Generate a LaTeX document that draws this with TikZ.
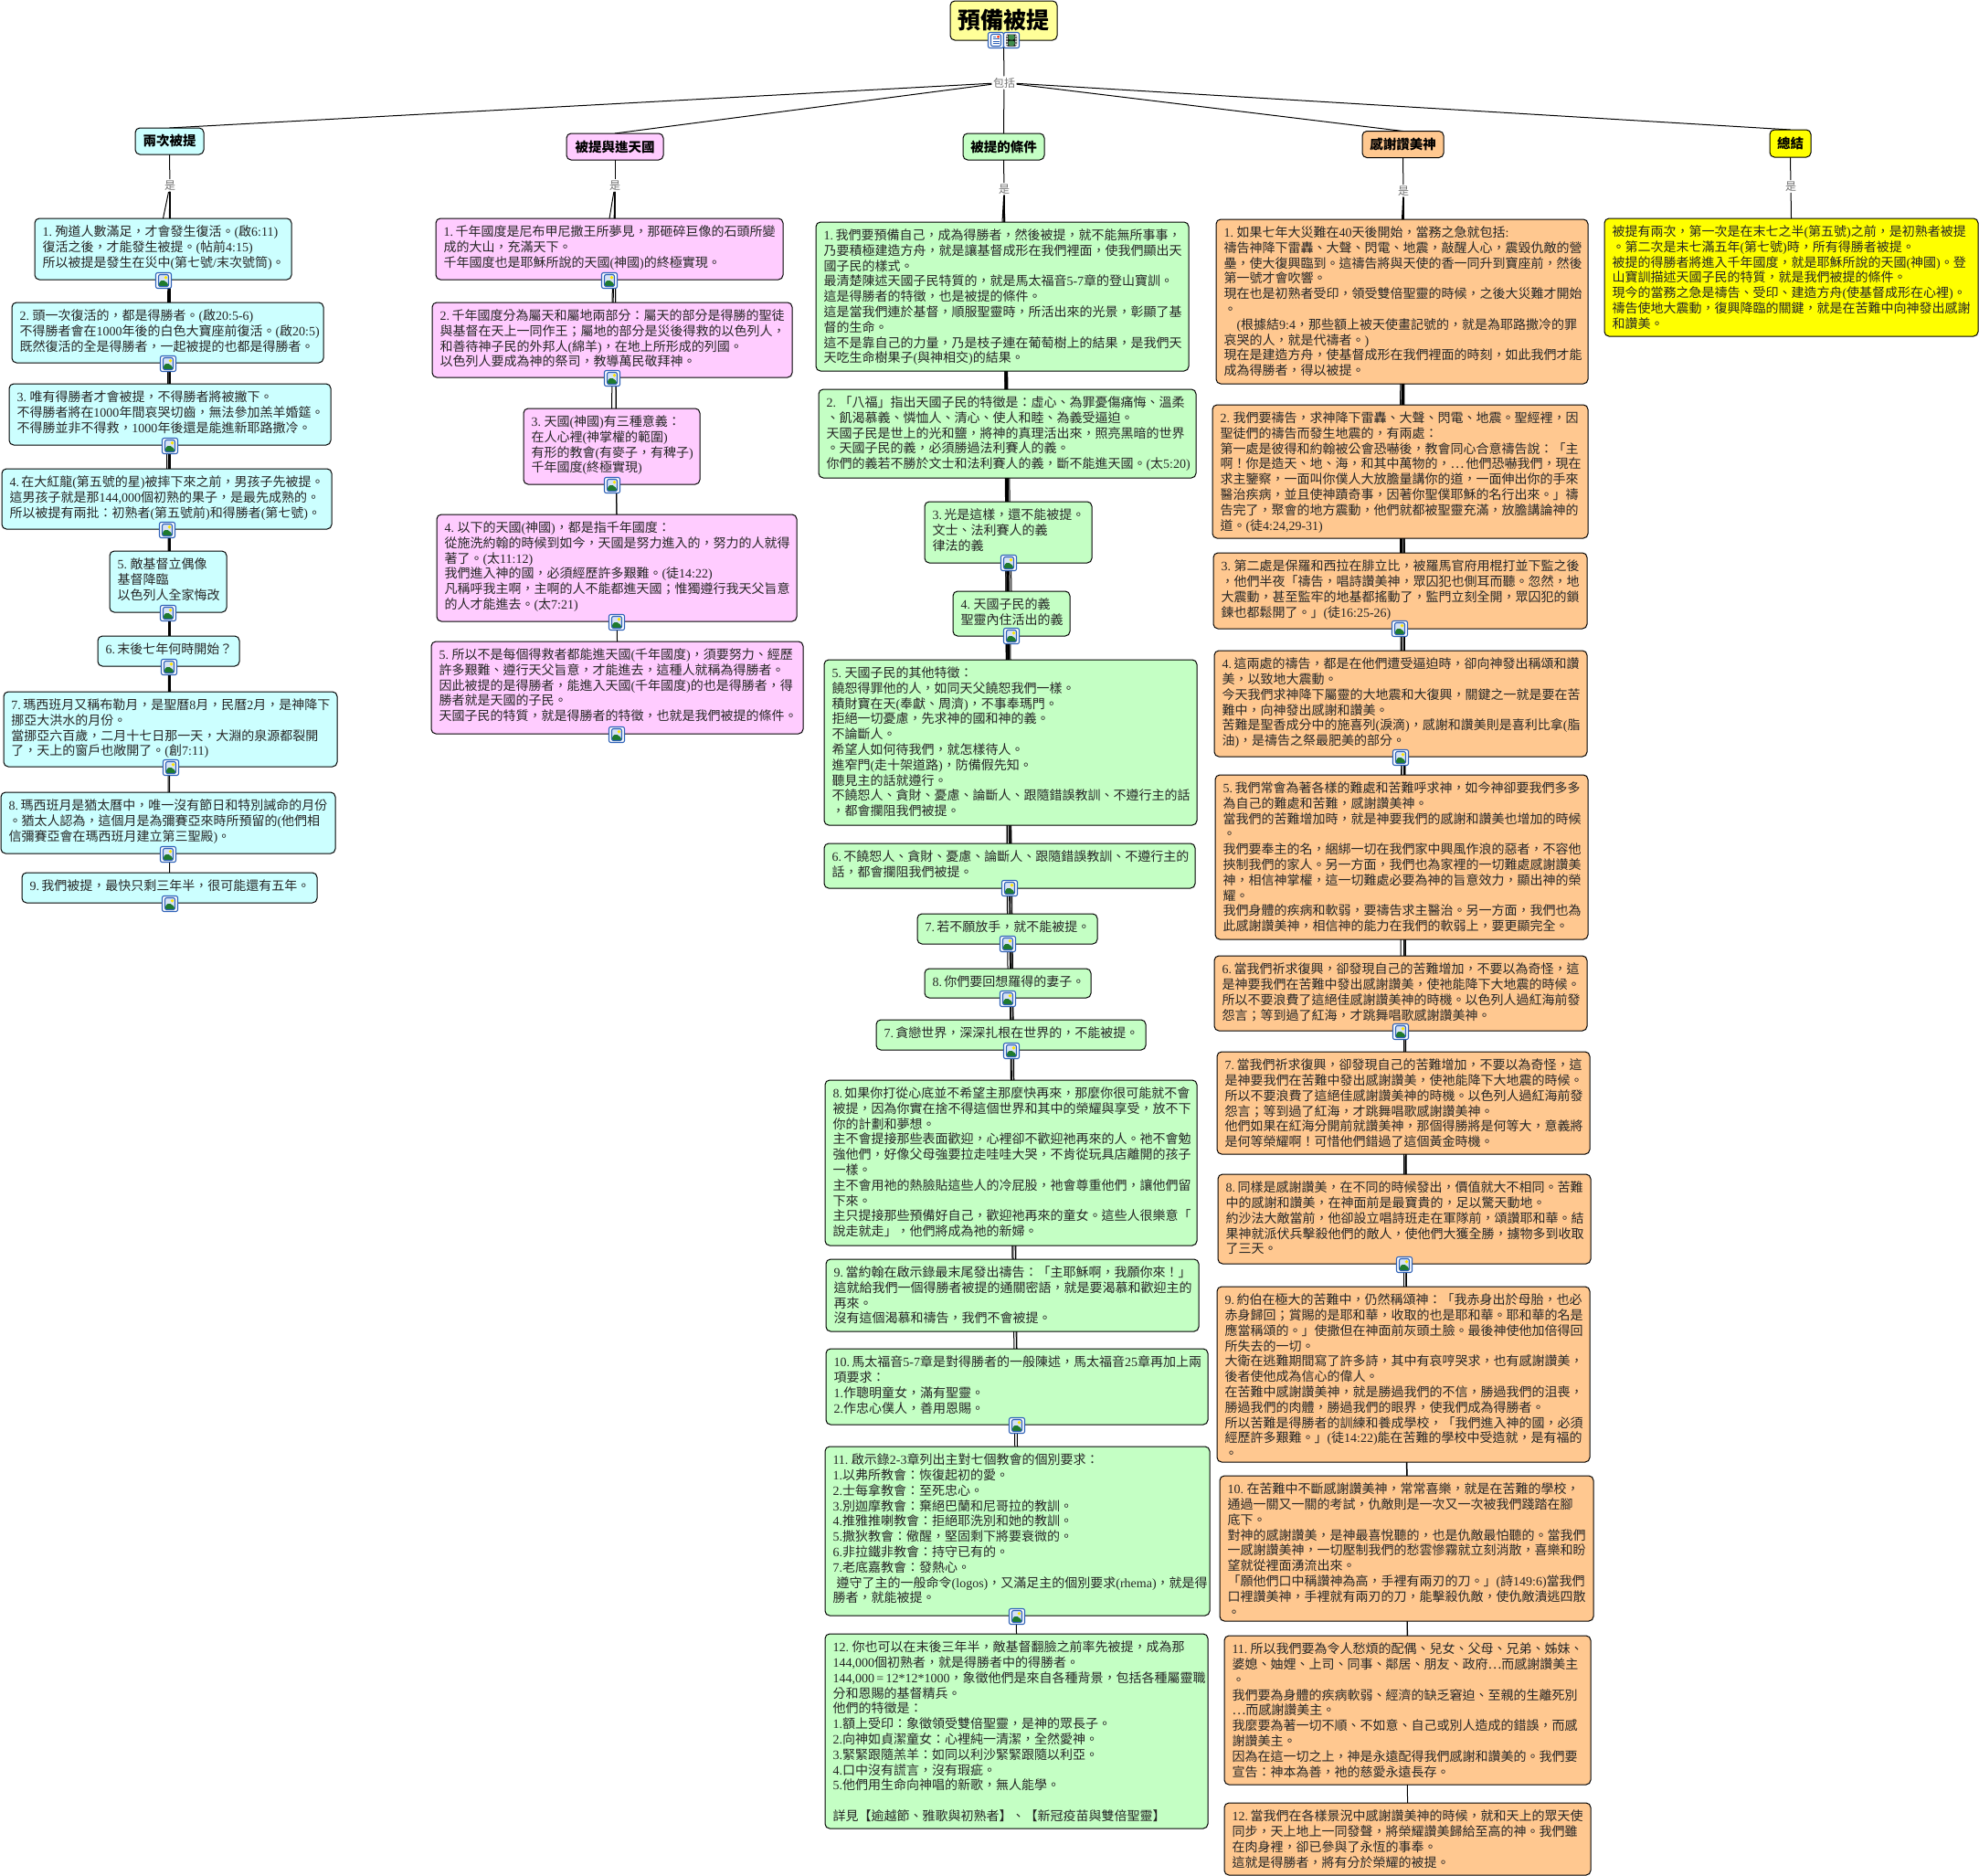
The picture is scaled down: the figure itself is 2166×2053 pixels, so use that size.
\documentclass[tikz,border=0pt]{standalone}
\usepackage{fontspec}
\usetikzlibrary{backgrounds}
\setmainfont{Liberation Serif}
\newfontfamily\hanfont{Noto Sans CJK TC}

% han characters take the CJK font, the rest stays in the serif
\XeTeXinterchartokenstate=1
\newcount\hancode
\hancode="3000
\loop \XeTeXcharclass\hancode=100 \advance\hancode by 1 \ifnum\hancode<"A000 \repeat
\hancode="FF00
\loop \XeTeXcharclass\hancode=100 \advance\hancode by 1 \ifnum\hancode<"FFF0 \repeat
\XeTeXcharclass"22EF=100
\XeTeXinterchartoks 0 100={\hanfont}
\XeTeXinterchartoks 100 0={\rmfamily}
\XeTeXinterchartoks 4095 100={\hanfont}
\XeTeXinterchartoks 100 4095={\rmfamily}

\definecolor{cyanfill}{HTML}{CCFFFF}
\definecolor{pinkfill}{HTML}{FFCCFF}
\definecolor{greenfill}{HTML}{C4FFC4}
\definecolor{orangefill}{HTML}{FFC890}
\definecolor{yellowfill}{HTML}{FFFF00}
\definecolor{titlefill}{HTML}{FFFF99}
\definecolor{iconblue}{HTML}{2F62B8}
\definecolor{iconsky}{HTML}{D6E2F5}
\definecolor{iconhill}{HTML}{1F7A2E}

\tikzset{
    notebox/.style={draw,line width=1pt,rounded corners=5pt,outer sep=0pt,inner xsep=8.5pt,inner ysep=7.7pt,text=black!85},
    headbox/.style={draw,line width=1pt,rounded corners=5pt,outer sep=0pt,inner sep=0pt,font=\fontsize{14.5}{17}\selectfont\bfseries},
    linkword/.style={inner sep=1.5pt,text=black!55,font=\fontsize{12}{14}\selectfont},
    link/.style={draw,line width=1pt,-},
    iconbase/.style={draw=iconblue,line width=1.1pt,fill=white,rounded corners=2pt,outer sep=0pt,inner sep=0pt,minimum size=17pt},
    imgicon/.style={iconbase,path picture={
        \begin{scope}[shift={(path picture bounding box.center)}]
            \fill[iconsky] (-5.5,-6.5) rectangle (5.5,6.5);
            \fill[yellow!90!orange] (2.5,-3.2) circle (1.9);
            \fill[iconhill] (-5.5,6.5) -- (-5.5,2.5) -- (-1,-1) -- (5.5,3.5) -- (5.5,6.5) -- cycle;
            \draw[line width=1.1pt] (-5.5,-6.5) rectangle (5.5,6.5);
        \end{scope}}},
    docicon/.style={iconbase,path picture={
        \begin{scope}[shift={(path picture bounding box.center)}]
            \draw[line width=1.1pt] (-5.5,-6.5) rectangle (5.5,6.5);
            \foreach \yy in {-1.5,1,3.5}
                \draw[line width=.9pt] (-3.5,\yy) -- (3.5,\yy);
            \draw[line width=.9pt] (-3.5,-4) -- (0,-4);
            \fill[red!70!orange] (1,-5) rectangle (4,-2.5);
        \end{scope}}},
    filmicon/.style={iconbase,path picture={
        \begin{scope}[shift={(path picture bounding box.center)}]
            \fill[black] (-6,-6.5) rectangle (6,6.5);
            \fill[iconhill!85!white] (-3.5,-6) rectangle (3.5,-.5);
            \fill[iconhill!85!white] (-3.5,.5) rectangle (3.5,6);
            \foreach \yy in {-4.5,-1.5,1.5,4.5} {
                \fill[white] (-5.4,\yy-.6) rectangle (-4.4,\yy+.6);
                \fill[white] (4.4,\yy-.6) rectangle (5.4,\yy+.6);
            }
        \end{scope}}},
}

\newcommand{\notefont}{\fontsize{14}{16.8}\selectfont\raggedright\lefthyphenmin=62 \exhyphenpenalty=10000 }
% style, name, left, top, right, bottom, text
\newcommand{\textnote}[7]{%
    \pgfmathsetmacro{\notew}{#5-#3-17}%
    \pgfmathsetmacro{\noteh}{#6-#4-15.4}%
    \node[notebox,fill=#1,anchor=north west] (#2) at (#3,#4)
        {\begin{minipage}[t][\noteh pt][t]{\notew pt}\notefont #7\end{minipage}};%
}

\begin{document}
\begin{tikzpicture}[x=1pt,y=-1pt]
    \useasboundingbox (0,0) rectangle (2166,2053);

    \node[headbox,fill=titlefill,minimum width=117pt,minimum height=43pt,
        font=\fontsize{25}{30}\selectfont\bfseries,text depth=3pt] (title) at (1098.5,22.5) {預備被提};
    \node[linkword] (incl) at (1099,90.5) {包括};

    \node[headbox,fill=cyanfill,minimum width=75pt,minimum height=29pt] (ha) at (185.5,154.5) {兩次被提};
    \node[headbox,fill=pinkfill,minimum width=106pt,minimum height=29pt] (hb) at (673,160.5) {被提與進天國};
    \node[headbox,fill=greenfill,minimum width=89pt,minimum height=29pt] (hc) at (1098.5,160.5) {被提的條件};
    \node[headbox,fill=orangefill,minimum width=89pt,minimum height=29pt] (hd) at (1535.5,158) {感謝讚美神};
    \node[headbox,fill=yellowfill,minimum width=45pt,minimum height=30pt] (he) at (1959.5,157) {總結};

    \foreach \pos/\name in {
            {(186,203)/wa}, {(673,203)/wb}, {(1099,207)/wc}, {(1536,209)/wd}, {(1960,204)/we}}
        \node[linkword] (\name) at \pos {是};

    % first column
    \textnote{cyanfill}{a1}{38}{239}{319}{306}{1.~殉道人數滿足，才會發生復活。(啟6:11)\\復活之後，才能發生被提。(帖前4:15)\\所以被提是發生在災中(第七號/末次號筒)。}
    \textnote{cyanfill}{a2}{13}{331}{354}{397}{2.~頭一次復活的，都是得勝者。(啟20:5-6)\\不得勝者會在1000年後的白色大寶座前復活。(啟20:5)\\既然復活的全是得勝者，一起被提的也都是得勝者。}
    \textnote{cyanfill}{a3}{10}{420}{362}{487}{3.~唯有得勝者才會被提，不得勝者將被撇下。\\不得勝者將在1000年間哀哭切齒，無法參加羔羊婚筵。\\不得勝並非不得救，1000年後還是能進新耶路撒冷。}
    \textnote{cyanfill}{a4}{2}{513}{363}{579}{4.~在大紅龍(第五號的星)被摔下來之前，男孩子先被提。\\這男孩子就是那144,000個初熟的果子，是最先成熟的。\\所以被提有兩批：初熟者(第五號前)和得勝者(第七號)。}
    \textnote{cyanfill}{a5}{120}{603}{248}{670}{5.~敵基督立偶像\\基督降臨\\以色列人全家悔改}
    \textnote{cyanfill}{a6}{107}{696}{262}{729}{6.~末後七年何時開始？}
    \textnote{cyanfill}{a7}{4}{757}{369}{839}{7.~瑪西班月又稱布勒月，是聖曆8月，民曆2月，是神降下\\挪亞大洪水的月份。\\當挪亞六百歲，二月十七日那一天，大淵的泉源都裂開\\了，天上的窗戶也敞開了。(創7:11)}
    \textnote{cyanfill}{a8}{1}{867}{367}{934}{8.~瑪西班月是猶太曆中，唯一沒有節日和特別誡命的月份\\。猶太人認為，這個月是為彌賽亞來時所預留的(他們相\\信彌賽亞會在瑪西班月建立第三聖殿)。}
    \textnote{cyanfill}{a9}{24}{955}{347}{988}{9.~我們被提，最快只剩三年半，很可能還有五年。}

    % second column
    \textnote{pinkfill}{b1}{477}{239}{857}{306}{1.~千年國度是尼布甲尼撒王所夢見，那砸碎巨像的石頭所變\\成的大山，充滿天下。\\千年國度也是耶穌所說的天國(神國)的終極實現。}
    \textnote{pinkfill}{b2}{473}{331}{867}{413}{2.~千年國度分為屬天和屬地兩部分：屬天的部分是得勝的聖徒\\與基督在天上一同作王；屬地的部分是災後得救的以色列人，\\和善待神子民的外邦人(綿羊)，在地上所形成的列國。\\以色列人要成為神的祭司，教導萬民敬拜神。}
    \textnote{pinkfill}{b3}{573}{447}{766}{530}{3.~天國(神國)有三種意義：\\在人心裡(神掌權的範圍)\\有形的教會(有麥子，有稗子)\\千年國度(終極實現)}
    \textnote{pinkfill}{b4}{478}{563}{872}{680}{4.~以下的天國(神國)，都是指千年國度：\\從施洗約翰的時候到如今，天國是努力進入的，努力的人就得\\著了。(太11:12)\\我們進入神的國，必須經歷許多艱難。(徒14:22)\\凡稱呼我主啊，主啊的人不能都進天國；惟獨遵行我天父旨意\\的人才能進去。(太7:21)}
    \textnote{pinkfill}{b5}{472}{702}{879}{803}{5.~所以不是每個得救者都能進天國(千年國度)，須要努力、經歷\\許多艱難、遵行天父旨意，才能進去，這種人就稱為得勝者。\\因此被提的是得勝者，能進入天國(千年國度)的也是得勝者，得\\勝者就是天國的子民。\\天國子民的特質，就是得勝者的特徵，也就是我們被提的條件。}

    % third column
    \textnote{greenfill}{c1}{893}{243}{1301}{406}{1.~我們要預備自己，成為得勝者，然後被提，就不能無所事事，\\乃要積極建造方舟，就是讓基督成形在我們裡面，使我們顯出天\\國子民的樣式。\\最清楚陳述天國子民特質的，就是馬太福音5-7章的登山寶訓。\\這是得勝者的特徵，也是被提的條件。\\這是當我們連於基督，順服聖靈時，所活出來的光景，彰顯了基\\督的生命。\\這不是靠自己的力量，乃是枝子連在葡萄樹上的結果，是我們天\\天吃生命樹果子(與神相交)的結果。}
    \textnote{greenfill}{c2}{896}{426}{1309}{523}{2.~「八福」指出天國子民的特徵是：虛心、為罪憂傷痛悔、溫柔\\、飢渴慕義、憐恤人、清心、使人和睦、為義受逼迫。\\天國子民是世上的光和鹽，將神的真理活出來，照亮黑暗的世界\\。天國子民的義，必須勝過法利賽人的義。\\你們的義若不勝於文士和法利賽人的義，斷不能進天國。(太5:20)}
    \textnote{greenfill}{c3}{1012}{549}{1195}{616}{3.~光是這樣，還不能被提。\\文士、法利賽人的義\\律法的義}
    \textnote{greenfill}{c4}{1043}{647}{1171}{696}{4.~天國子民的義\\聖靈內住活出的義}
    \textnote{greenfill}{c5}{902}{722}{1310}{903}{5.~天國子民的其他特徵：\\饒恕得罪他的人，如同天父饒恕我們一樣。\\積財寶在天(奉獻、周濟)，不事奉瑪門。\\拒絕一切憂慮，先求神的國和神的義。\\不論斷人。\\希望人如何待我們，就怎樣待人。\\進窄門(走十架道路)，防備假先知。\\聽見主的話就遵行。\\不饒恕人、貪財、憂慮、論斷人、跟隨錯誤教訓、不遵行主的話\\，都會攔阻我們被提。}
    \textnote{greenfill}{c6}{902}{923}{1308}{972}{6.~不饒恕人、貪財、憂慮、論斷人、跟隨錯誤教訓、不遵行主的\\話，都會攔阻我們被提。}
    \textnote{greenfill}{c7}{1004}{1000}{1201}{1033}{7.~若不願放手，就不能被提。}
    \textnote{greenfill}{c8}{1012}{1060}{1194}{1092}{8.~你們要回想羅得的妻子。}
    \textnote{greenfill}{c9}{959}{1116}{1254}{1149}{7.~貪戀世界，深深扎根在世界的，不能被提。}
    \textnote{greenfill}{c10}{903}{1182}{1310}{1363}{8.~如果你打從心底並不希望主那麼快再來，那麼你很可能就不會\\被提，因為你實在捨不得這個世界和其中的榮耀與享受，放不下\\你的計劃和夢想。\\主不會提接那些表面歡迎，心裡卻不歡迎祂再來的人。祂不會勉\\強他們，好像父母強要拉走哇哇大哭，不肯從玩具店離開的孩子\\一樣。\\主不會用祂的熱臉貼這些人的冷屁股，祂會尊重他們，讓他們留\\下來。\\主只提接那些預備好自己，歡迎祂再來的童女。這些人很樂意「\\說走就走」，他們將成為祂的新婦。}
    \textnote{greenfill}{c11}{904}{1378}{1312}{1457}{9.~當約翰在啟示錄最末尾發出禱告：「主耶穌啊，我願你來！」\\這就給我們一個得勝者被提的通關密語，就是要渴慕和歡迎主的\\再來。\\沒有這個渴慕和禱告，我們不會被提。}
    \textnote{greenfill}{c12}{904}{1476}{1322}{1559}{10.~馬太福音5-7章是對得勝者的一般陳述，馬太福音25章再加上兩\\項要求：\\1.作聰明童女，滿有聖靈。\\2.作忠心僕人，善用恩賜。}
    \textnote{greenfill}{c13}{903}{1583}{1324}{1768}{11.~啟示錄2-3章列出主對七個教會的個別要求：\\1.以弗所教會：恢復起初的愛。\\2.士每拿教會：至死忠心。\\3.別迦摩教會：棄絕巴蘭和尼哥拉的教訓。\\4.推雅推喇教會：拒絕耶洗別和她的教訓。\\5.撒狄教會：儆醒，堅固剩下將要衰微的。\\6.非拉鐵非教會：持守已有的。\\7.老底嘉教會：發熱心。\\\hspace*{.3em}遵守了主的一般命令(logos)，又滿足主的個別要求(rhema)，就是得\\勝者，就能被提。}
    \textnote{greenfill}{c14}{903}{1788}{1322}{2001}{12.~你也可以在末後三年半，敵基督翻臉之前率先被提，成為那\\144,000個初熟者，就是得勝者中的得勝者。\\144,000~=~12*12*1000，象徵他們是來自各種背景，包括各種屬靈職\\分和恩賜的基督精兵。\\他們的特徵是：\\1.額上受印：象徵領受雙倍聖靈，是神的眾長子。\\2.向神如貞潔童女：心裡純一清潔，全然愛神。\\3.緊緊跟隨羔羊：如同以利沙緊緊跟隨以利亞。\\4.口中沒有謊言，沒有瑕疵。\\5.他們用生命向神唱的新歌，無人能學。\\\mbox{}\\詳見【逾越節、雅歌與初熟者】、【新冠疫苗與雙倍聖靈】}

    % fourth column
    \textnote{orangefill}{d1}{1331}{240}{1738}{420}{1.~如果七年大災難在40天後開始，當務之急就包括:\\禱告神降下雷轟、大聲、閃電、地震，敲醒人心，震毀仇敵的營\\壘，使大復興臨到。這禱告將與天使的香一同升到寶座前，然後\\第一號才會吹響。\\現在也是初熟者受印，領受雙倍聖靈的時候，之後大災難才開始\\。\\\hspace*{1em}(根據結9:4，那些額上被天使畫記號的，就是為耶路撒冷的罪\\哀哭的人，就是代禱者。)\\現在是建造方舟，使基督成形在我們裡面的時刻，如此我們才能\\成為得勝者，得以被提。}
    \textnote{orangefill}{d2}{1327}{443}{1738}{589}{2.~我們要禱告，求神降下雷轟、大聲、閃電、地震。聖經裡，因\\聖徒們的禱告而發生地震的，有兩處：\\第一處是彼得和約翰被公會恐嚇後，教會同心合意禱告說：「主\\啊！你是造天、地、海，和其中萬物的，⋯~他們恐嚇我們，現在\\求主鑒察，一面叫你僕人大放膽量講你的道，一面伸出你的手來\\醫治疾病，並且使神蹟奇事，因著你聖僕耶穌的名行出來。」禱\\告完了，聚會的地方震動，他們就都被聖靈充滿，放膽講論神的\\道。(徒4:24,29-31)}
    \textnote{orangefill}{d3}{1328}{605}{1737}{688}{3.~第二處是保羅和西拉在腓立比，被羅馬官府用棍打並下監之後\\，他們半夜「禱告，唱詩讚美神，眾囚犯也側耳而聽。忽然，地\\大震動，甚至監牢的地基都搖動了，監門立刻全開，眾囚犯的鎖\\鍊也都鬆開了。」(徒16:25-26)}
    \textnote{orangefill}{d4}{1329}{712}{1737}{828}{4.~這兩處的禱告，都是在他們遭受逼迫時，卻向神發出稱頌和讚\\美，以致地大震動。\\今天我們求神降下屬靈的大地震和大復興，關鍵之一就是要在苦\\難中，向神發出感謝和讚美。\\苦難是聖香成分中的施喜列(淚滴)，感謝和讚美則是喜利比拿(脂\\油)，是禱告之祭最肥美的部分。}
    \textnote{orangefill}{d5}{1330}{848}{1738}{1028}{5.~我們常會為著各樣的難處和苦難呼求神，如今神卻要我們多多\\為自己的難處和苦難，感謝讚美神。\\當我們的苦難增加時，就是神要我們的感謝和讚美也增加的時候\\。\\我們要奉主的名，綑綁一切在我們家中興風作浪的惡者，不容他\\挾制我們的家人。另一方面，我們也為家裡的一切難處感謝讚美\\神，相信神掌權，這一切難處必要為神的旨意效力，顯出神的榮\\耀。\\我們身體的疾病和軟弱，要禱告求主醫治。另一方面，我們也為\\此感謝讚美神，相信神的能力在我們的軟弱上，要更顯完全。}
    \textnote{orangefill}{d6}{1329}{1046}{1737}{1128}{6.~當我們祈求復興，卻發現自己的苦難增加，不要以為奇怪，這\\是神要我們在苦難中發出感謝讚美，使祂能降下大地震的時候。\\所以不要浪費了這絕佳感謝讚美神的時機。以色列人過紅海前發\\怨言；等到過了紅海，才跳舞唱歌感謝讚美神。}
    \textnote{orangefill}{d7}{1332}{1151}{1740}{1263}{7.~當我們祈求復興，卻發現自己的苦難增加，不要以為奇怪，這\\是神要我們在苦難中發出感謝讚美，使祂能降下大地震的時候。\\所以不要浪費了這絕佳感謝讚美神的時機。以色列人過紅海前發\\怨言；等到過了紅海，才跳舞唱歌感謝讚美神。\\他們如果在紅海分開前就讚美神，那個得勝將是何等大，意義將\\是何等榮耀啊！可惜他們錯過了這個黃金時機。}
    \textnote{orangefill}{d8}{1333}{1285}{1741}{1383}{8.~同樣是感謝讚美，在不同的時候發出，價值就大不相同。苦難\\中的感謝和讚美，在神面前是最寶貴的，足以驚天動地。\\約沙法大敵當前，他卻設立唱詩班走在軍隊前，頌讚耶和華。結\\果神就派伏兵擊殺他們的敵人，使他們大獲全勝，擄物多到收取\\了三天。}
    \textnote{orangefill}{d9}{1332}{1408}{1740}{1600}{9.~約伯在極大的苦難中，仍然稱頌神：「我赤身出於母胎，也必\\赤身歸回；賞賜的是耶和華，收取的也是耶和華。耶和華的名是\\應當稱頌的。」使撒但在神面前灰頭土臉。最後神使他加倍得回\\所失去的一切。\\大衛在逃難期間寫了許多詩，其中有哀哼哭求，也有感謝讚美，\\後者使他成為信心的偉人。\\在苦難中感謝讚美神，就是勝過我們的不信，勝過我們的沮喪，\\勝過我們的肉體，勝過我們的眼界，使我們成為得勝者。\\所以苦難是得勝者的訓練和養成學校，「我們進入神的國，必須\\經歷許多艱難。」(徒14:22)能在苦難的學校中受造就，是有福的\\。}
    \textnote{orangefill}{d10}{1335}{1615}{1744}{1774}{10.~在苦難中不斷感謝讚美神，常常喜樂，就是在苦難的學校，\\通過一關又一關的考試，仇敵則是一次又一次被我們踐踏在腳\\底下。\\對神的感謝讚美，是神最喜悅聽的，也是仇敵最怕聽的。當我們\\一感謝讚美神，一切壓制我們的愁雲慘霧就立刻消散，喜樂和盼\\望就從裡面湧流出來。\\「願他們口中稱讚神為高，手裡有兩刃的刀。」(詩149:6)當我們\\口裡讚美神，手裡就有兩刃的刀，能擊殺仇敵，使仇敵潰逃四散\\。}
    \textnote{orangefill}{d11}{1340}{1790}{1741}{1953}{11.~所以我們要為令人愁煩的配偶、兒女、父母、兄弟、姊妹、\\婆媳、妯娌、上司、同事、鄰居、朋友、政府⋯而感謝讚美主\\。\\我們要為身體的疾病軟弱、經濟的缺乏窘迫、至親的生離死別\\⋯而感謝讚美主。\\我麼要為著一切不順、不如意、自己或別人造成的錯誤，而感\\謝讚美主。\\因為在這一切之上，神是永遠配得我們感謝和讚美的。我們要\\宣告：神本為善，祂的慈愛永遠長存。}
    \textnote{orangefill}{d12}{1340}{1973}{1741}{2052}{12.~當我們在各樣景況中感謝讚美神的時候，就和天上的眾天使\\同步，天上地上一同發聲，將榮耀讚美歸給至高的神。我們雖\\在肉身裡，卻已參與了永恆的事奉。\\這就是得勝者，將有分於榮耀的被提。}

    % fifth column
    \textnote{yellowfill}{e1}{1756}{239}{2165}{368}{被提有兩次，第一次是在末七之半(第五號)之前，是初熟者被提\\。第二次是末七滿五年(第七號)時，所有得勝者被提。\\被提的得勝者將進入千年國度，就是耶穌所說的天國(神國)。登\\山寶訓描述天國子民的特質，就是我們被提的條件。\\現今的當務之急是禱告、受印、建造方舟(使基督成形在心裡)。\\禱告使地大震動，復興降臨的關鍵，就是在苦難中向神發出感謝\\和讚美。}

    \foreach \pos/\name in {
            {(179,307)/ia1}, {(184,398)/ia2}, {(186,488)/ia3}, {(183,580)/ia4}, {(184,671)/ia5},
            {(185,730)/ia6}, {(187,840)/ia7}, {(184,935)/ia8}, {(186,989)/ia9},
            {(667,307)/ib1}, {(670,414)/ib2}, {(670,531)/ib3}, {(675,681)/ib4}, {(675,804)/ib5},
            {(1104,616)/ic3}, {(1107,696)/ic4}, {(1105,972)/ic6}, {(1103,1033)/ic7}, {(1103,1093)/ic8},
            {(1107,1150)/ic9}, {(1113,1560)/ic12}, {(1113,1769)/ic13},
            {(1532,688)/id3}, {(1533,829)/id4}, {(1533,1129)/id6}, {(1537,1384)/id8}}
        \node[imgicon] (\name) at \pos {};
    \node[docicon] (idoc) at (1090,44) {};
    \node[filmicon] (ifilm) at (1107,44) {};

    \begin{scope}[on background layer]
        \path[link] (title.south) -- (incl);
        \foreach \dest in {ha,hb,hc,hd,he}
            \path[link] (incl) -- (\dest.north);
        \foreach \source/\dest in {ha/wa,hb/wb,hc/wc,hd/wd,he/we}
            \path[link] (\source.south) -- (\dest);
        \foreach \source/\kids in {
                wa/{a1,a2,a3,a4,a5,a6,a7,a8,a9},
                wb/{b1,b2,b3,b4,b5},
                wc/{c1,c2,c3,c4,c5,c6,c7,c8,c9,c10,c11,c12,c13,c14},
                wd/{d1,d2,d3,d4,d5,d6,d7,d8,d9,d10,d11,d12},
                we/{e1}}
            \foreach \dest in \kids
                \path[link] (\source) -- (\dest.north);
    \end{scope}
\end{tikzpicture}
\end{document}
